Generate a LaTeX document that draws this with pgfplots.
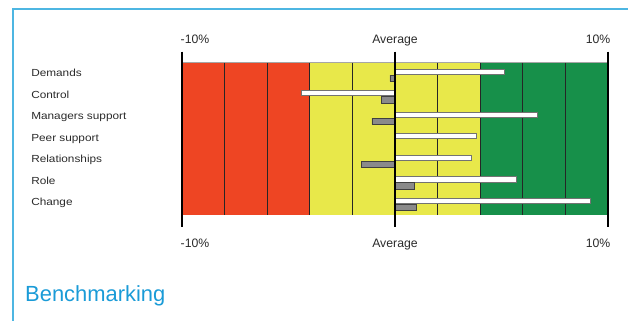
\documentclass[border=0pt]{standalone}
\usepackage{pgfplots}
\pgfplotsset{compat=1.18}
\usepackage{fontspec}
\setmainfont{Liberation Sans}
\newfontfamily\catfont[FakeStretch=1.15]{Liberation Sans}
\definecolor{framecol}{HTML}{4DB6E2}
\definecolor{bred}{HTML}{EE4523}
\definecolor{byel}{HTML}{E8E84A}
\definecolor{bgrn}{HTML}{17904A}
\definecolor{bluet}{HTML}{1A9BD7}
\definecolor{txt}{HTML}{2A2A2A}
\definecolor{gbar}{HTML}{8A8A8A}
\begin{document}
\begin{tikzpicture}[lab/.style={text=txt, font=\fontsize{12.3}{14}\selectfont, inner sep=0pt, text height=9bp, text depth=0bp}]
\path[use as bounding box] (0bp,0bp) rectangle (628bp,321bp);
\draw[framecol, line width=2bp] (13bp,0bp) -- (13bp,312bp) -- (628bp,312bp);
\node[anchor=west, text=bluet, inner sep=0pt, text height=15.5bp, text depth=0bp] at (25bp,27bp) {\fontsize{22}{26}\selectfont Benchmarking};
\begin{axis}[
  at={(182bp,106bp)}, anchor=south west,
  width=426bp, height=152.3bp, scale only axis,
  xmin=-10, xmax=10, ymin=-0.57, ymax=6.51,
  y dir=reverse,
  axis line style={draw=none},
  xtick=\empty,
  ytick={0,1,2,3,4,5,6},
  yticklabels={Demands,Control,Managers support,Peer support,Relationships,Role,Change},
  ytick style={draw=none},
  yticklabel style={anchor=west, xshift=-150bp, yshift=2bp, text height=7.4bp, text depth=0bp, font=\catfont\fontsize{10.3}{12}\selectfont, text=txt},
  clip=false,
  xbar,
]
% background bands
\fill[bred] (axis cs:-10,-0.57) rectangle (axis cs:-4,6.51);
\fill[byel] (axis cs:-4,-0.57) rectangle (axis cs:4,6.51);
\fill[bgrn] (axis cs:4,-0.57) rectangle (axis cs:10,6.51);
\draw[gray!70, line width=0.8bp] (axis cs:-10,-0.57) -- (axis cs:10,-0.57);
\pgfplotsinvokeforeach{-8,-6,-4,-2,2,4,6,8}{
  \draw[black!85, line width=1bp] (axis cs:#1,-0.57) -- (axis cs:#1,6.51);
}
% bars
\addplot[xbar, bar width=0.24, bar shift=-0.155, fill=white, draw=black!55, line width=0.5bp]
  coordinates {(5.15,0) (-4.39,1) (6.66,2) (3.80,3) (3.56,4) (5.69,5) (9.17,6)};
\addplot[xbar, bar width=0.29, bar shift=0.155, fill=gbar, draw=black!75, line width=0.6bp]
  coordinates {(-0.24,0) (-0.63,1) (-1.08,2) (-1.57,4) (0.90,5) (1.00,6)};
% thick main lines
\pgfplotsinvokeforeach{-10,0,10}{
  \draw[black, line width=1.6bp] ([yshift=11bp]axis cs:#1,-0.57) -- ([yshift=-12bp]axis cs:#1,6.51);
}
% axis labels
\node[lab, anchor=west] at ([xshift=-1.5bp,yshift=23.7bp]axis cs:-10,-0.57) {-10\%};
\node[lab, anchor=center] at ([yshift=23.7bp]axis cs:0,-0.57) {Average};
\node[lab, anchor=east] at ([xshift=2.5bp,yshift=23.7bp]axis cs:10,-0.57) {10\%};
\node[lab, anchor=west] at ([xshift=-1.5bp,yshift=-28bp]axis cs:-10,6.51) {-10\%};
\node[lab, anchor=center] at ([yshift=-28bp]axis cs:0,6.51) {Average};
\node[lab, anchor=east] at ([xshift=2.5bp,yshift=-28bp]axis cs:10,6.51) {10\%};
\end{axis}
\end{tikzpicture}
\end{document}
